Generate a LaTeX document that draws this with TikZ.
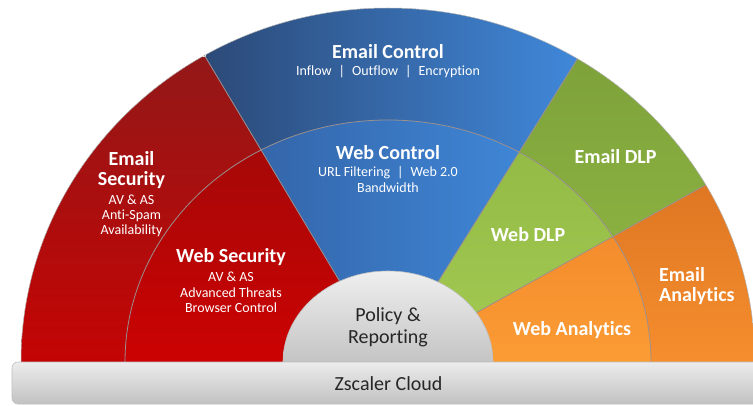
\documentclass[tikz,border=0pt]{standalone}
\usepackage{fontspec}
\setmainfont{Carlito}[Ligatures=NoCommon]
\usepackage{tikz}

\definecolor{redtop}{HTML}{941818}
\definecolor{redbot}{HTML}{C40404}
\definecolor{webredtop}{HTML}{A60808}
\definecolor{webredbot}{HTML}{CC0202}
\definecolor{bluel}{HTML}{2C4A78}
\definecolor{bluer}{HTML}{4088DA}
\definecolor{webbluel}{HTML}{3466AA}
\definecolor{webbluer}{HTML}{3F86D6}
\definecolor{greentop}{HTML}{7EA23A}
\definecolor{greenbot}{HTML}{92BA46}
\definecolor{webgreentop}{HTML}{93BB45}
\definecolor{webgreenbot}{HTML}{A4CA53}
\definecolor{orangetop}{HTML}{DE7623}
\definecolor{orangebot}{HTML}{F68E2E}
\definecolor{weborangetop}{HTML}{F48C2D}
\definecolor{weborangebot}{HTML}{FB9C34}
\definecolor{graytop}{HTML}{EFEFEF}
\definecolor{graybot}{HTML}{C4C4C4}
\definecolor{bartop}{HTML}{ECECEC}
\definecolor{barbot}{HTML}{C2C2C2}
\definecolor{darktext}{HTML}{262626}
\definecolor{divider}{HTML}{9A9090}

\newcommand{\bigtext}{\bfseries\fontsize{20}{20}\selectfont}

\tikzset{
  outer half/.style={insert path={(21,362) arc[start angle=180, end angle=0, x radius=367pt, y radius=354pt] -- cycle}},
  mid half/.style={insert path={(125,362) arc[start angle=180, end angle=0, x radius=263pt, y radius=242pt] -- cycle}},
  sector label/.style={text=white, font=\fontsize{14}{15}\selectfont, align=center, inner sep=0pt},
  big label/.style={text=white, font=\bigtext, inner sep=0pt},
  grey label/.style={text=darktext, font=\fontsize{20}{22}\selectfont, align=center, inner sep=0pt},
  divider line/.style={draw=divider, line width=0.8pt},
}

\begin{document}
\begin{tikzpicture}[x=1pt, y=-1pt]
	\useasboundingbox (0,0) rectangle (753,406);
	
	\coordinate (c)  at (388, 362);
	\coordinate (rb) at (24, -246);
	\coordinate (bg) at (768, -246);
	\coordinate (go) at (1030, 4);
	
	\begin{scope}
		\clip (c) -- (rb) -- (-400, -246) -- (-400, 362) -- cycle;
		\clip[outer half];
		\shade[top color=redtop, bottom color=redbot] (21, 58) rectangle (388, 362);
		\clip[mid half];
		\shade[top color=webredtop, bottom color=webredbot] (125, 151) rectangle (388, 362);
	\end{scope}
	
	\begin{scope}
		\clip (c) -- (rb) -- (bg) -- cycle;
		\clip[outer half];
		\shade[left color=bluel, right color=bluer] (206, 8) rectangle (578, 362);
		\clip[mid half];
		\shade[left color=webbluel, right color=webbluer] (261, 120) rectangle (519, 362);
	\end{scope}
	
	\begin{scope}
		\clip (c) -- (bg) -- (go) -- cycle;
		\clip[outer half];
		\shade[top color=greentop, bottom color=greenbot] (388, 58) rectangle (709, 362);
		\clip[mid half];
		\shade[top color=webgreentop, bottom color=webgreenbot] (388, 153) rectangle (613, 362);
	\end{scope}
	
	\begin{scope}
		\clip (c) -- (go) -- (1100, 4) -- (1100, 362) -- cycle;
		\clip[outer half];
		\shade[top color=orangetop, bottom color=orangebot] (388, 183) rectangle (755, 362);
		\clip[mid half];
		\shade[top color=weborangetop, bottom color=weborangebot] (388, 239) rectangle (651, 362);
	\end{scope}
	
	\begin{scope}
		\clip[outer half];
		\draw[divider line] (c) -- (rb);
		\draw[divider line] (c) -- (bg);
		\draw[divider line] (c) -- (go);
	\end{scope}
	\draw[divider line] (125, 362) arc[start angle=180, end angle=0, x radius=263pt, y radius=242pt];
	\draw[draw=black!30, line width=0.5pt] (21, 362) arc[start angle=180, end angle=0, x radius=367pt, y radius=354pt];
	
	\shadedraw[top color=graytop, bottom color=graybot, draw=black!25, line width=0.6pt] (283, 362) arc[start angle=180, end angle=0, x radius=105pt, y radius=91pt] -- cycle;
	
	\shadedraw[top color=bartop, bottom color=barbot, draw=black!25, line width=0.6pt, rounded corners=6pt] (12, 362) rectangle (790, 404);
	
	\node[sector label] (emailctl) at (388, 61) {{\bigtext Email Control}\\[2pt] Inflow\hspace{0.5em}|\hspace{0.5em}Outflow\hspace{0.5em}|\hspace{0.5em}Encryption};
	\node[sector label] (webctl) at (388, 169.5) {{\bigtext Web Control}\\[2pt] URL Filtering\hspace{0.5em}|\hspace{0.5em}Web 2.0\\[1pt] Bandwidth};
	\node[sector label] (emailsec) at (131.5, 194) {{\bigtext Email}\\[5pt] {\bigtext Security}\\[4pt] AV \& AS\\ Anti-Spam\\ Availability};
	\node[sector label] (websec) at (231, 280.5) {{\bigtext Web Security}\\[4pt] AV \& AS\\[1pt] Advanced Threats\\ Browser Control};
	
	\node[big label, anchor=base] (emaildlp) at (615.5, 164) {Email DLP};
	\node[big label, anchor=base] (webdlp) at (528, 242) {Web DLP};
	\node[big label, anchor=west, align=left] (emailan) at (659, 286.5) {Email\\ Analytics};
	\node[big label, anchor=base] (weban) at (572, 335) {Web Analytics};
	
	\node[grey label] (policy) at (388, 327.5) {Policy \&\\ Reporting};
	\node[grey label, anchor=base] (cloud) at (388.5, 390) {Zscaler Cloud};
	
\end{tikzpicture}
\end{document}
